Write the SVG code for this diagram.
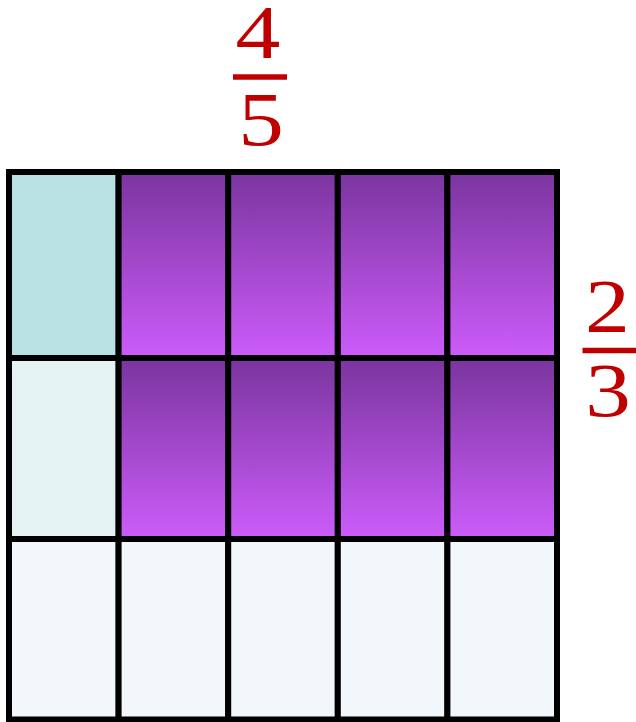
<svg xmlns="http://www.w3.org/2000/svg" width="636" height="722" viewBox="0 0 636 722">
  <defs>
    <linearGradient id="purple" x1="0" y1="0" x2="0" y2="1">
      <stop offset="0" stop-color="#7a359e"/>
      <stop offset="1" stop-color="#cc5cfa"/>
    </linearGradient>
    <style>
      .cell { stroke: #000; stroke-width: 6; }
      .p { fill: url(#purple); }
      .t1 { fill: #b9e0e3; }
      .t2 { fill: #e6f3f5; }
      .t3 { fill: #f1f7fa; }
      .num { font-family: "Liberation Serif", "Times New Roman", serif; font-size: 76px; fill: #c00000; text-anchor: middle; }
      .bar { stroke: #c00000; stroke-width: 5.5; }
    </style>
  </defs>
  <rect width="636" height="722" fill="#fff"/>

  <g id="row1">
    <rect id="c11" class="cell t1" x="9" y="172" width="109.6" height="186"/>
    <rect id="c12" class="cell p" x="118.6" y="172" width="109.6" height="186"/>
    <rect id="c13" class="cell p" x="228.2" y="172" width="109.6" height="186"/>
    <rect id="c14" class="cell p" x="337.8" y="172" width="109.6" height="186"/>
    <rect id="c15" class="cell p" x="447.4" y="172" width="109.6" height="186"/>
  </g>
  <g id="row2">
    <rect id="c21" class="cell t2" x="9" y="358" width="109.6" height="181"/>
    <rect id="c22" class="cell p" x="118.6" y="358" width="109.6" height="181"/>
    <rect id="c23" class="cell p" x="228.2" y="358" width="109.6" height="181"/>
    <rect id="c24" class="cell p" x="337.8" y="358" width="109.6" height="181"/>
    <rect id="c25" class="cell p" x="447.4" y="358" width="109.6" height="181"/>
  </g>
  <g id="row3">
    <rect id="c31" class="cell t3" x="9" y="539" width="109.6" height="180.5"/>
    <rect id="c32" class="cell t3" x="118.6" y="539" width="109.6" height="180.5"/>
    <rect id="c33" class="cell t3" x="228.2" y="539" width="109.6" height="180.5"/>
    <rect id="c34" class="cell t3" x="337.8" y="539" width="109.6" height="180.5"/>
    <rect id="c35" class="cell t3" x="447.4" y="539" width="109.6" height="180.5"/>
  </g>

  <g id="frac-top">
    <text class="num" transform="translate(258,57.5) scale(1.18,1)">4</text>
    <line class="bar" x1="233" y1="77" x2="287" y2="77"/>
    <text class="num" transform="translate(261,145) scale(1.2,1)">5</text>
  </g>
  <g id="frac-right">
    <text class="num" transform="translate(607.5,331.5) scale(1.18,1)">2</text>
    <line class="bar" x1="582.5" y1="350.5" x2="636" y2="350.5"/>
    <text class="num" transform="translate(608,416) scale(1.2,1)">3</text>
  </g>
</svg>
